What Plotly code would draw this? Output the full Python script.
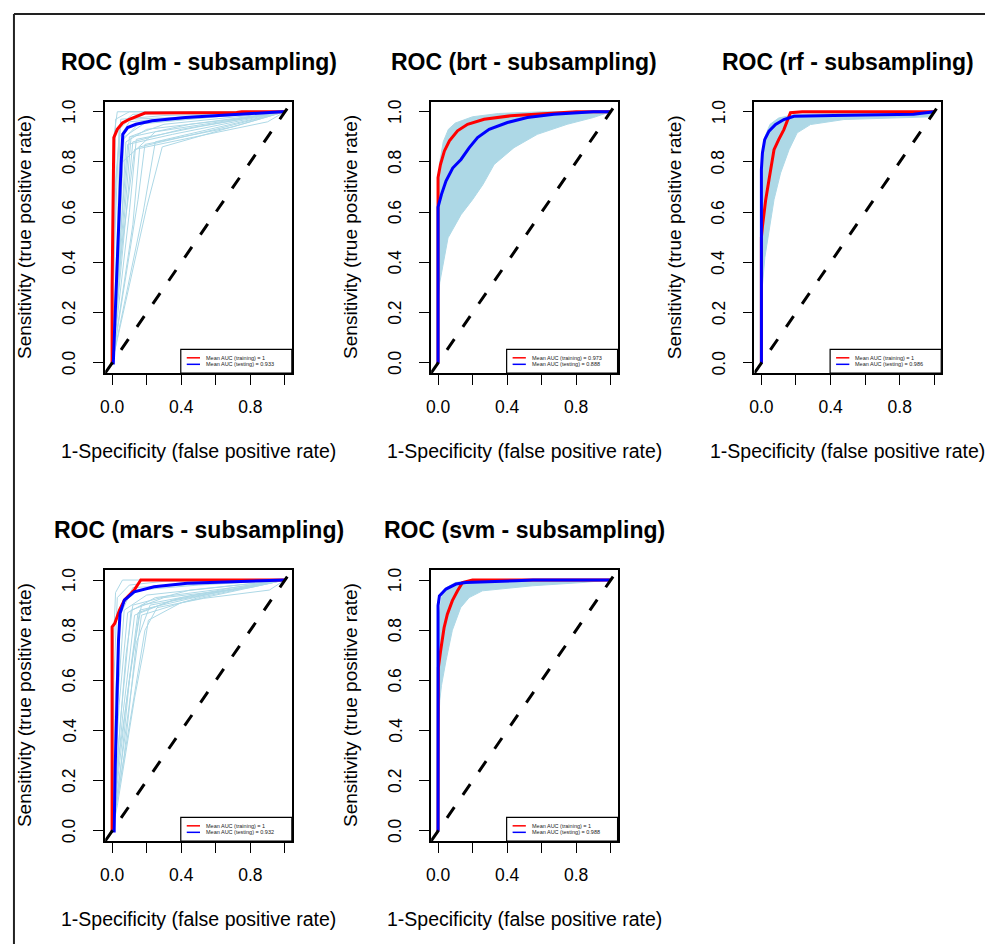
import plotly.graph_objects as go

# ---------------- data ----------------
AX_RANGE = [-0.04, 1.04]
tick_vals = [0, 0.2, 0.4, 0.6, 0.8, 1.0]
x_tick_text = ["0.0", "", "0.4", "", "0.8", ""]
y_tick_text = ["0.0", "0.2", "0.4", "0.6", "0.8", "1.0"]

titles = ["ROC (glm - subsampling)", "ROC (brt - subsampling)", "ROC (rf - subsampling)",
          "ROC (mars - subsampling)", "ROC (svm - subsampling)"]
auc_train = ["1", "0.973", "1", "1", "1"]
auc_test = ["0.933", "0.888", "0.986", "0.932", "0.988"]

# glm
glm_train_fpr = [0, 0.0, 0.005, 0.01, 0.03, 0.06, 0.1, 0.14, 0.19, 0.72, 0.75, 1.0]
glm_train_tpr = [0, 0.3, 0.6, 0.897, 0.93, 0.955, 0.97, 0.98, 0.995, 0.997, 1.0, 1.0]
glm_test_fpr = [0.0, 0.007, 0.014, 0.023, 0.033, 0.042, 0.052, 0.062, 0.09, 0.138, 0.233, 0.424, 0.711, 0.98, 1.0]
glm_test_tpr = [0.0, 0.0, 0.125, 0.3, 0.458, 0.658, 0.79, 0.91, 0.937, 0.95, 0.964, 0.977, 0.99, 1.0, 1.0]
glm_runs_fpr = [
    [0, 0.01, 0.03, 0.2, 1], [0, 0.02, 0.05, 0.12, 1], [0, 0.03, 0.045, 0.1, 0.5, 1],
    [0, 0.04, 0.065, 0.15, 0.6, 1], [0, 0.05, 0.08, 0.2, 0.7, 1], [0, 0.06, 0.1, 0.3, 1],
    [0, 0.08, 0.12, 0.4, 1], [0, 0.1, 0.14, 0.5, 1], [0, 0.12, 0.16, 0.6, 1],
    [0, 0.15, 0.19, 0.7, 1], [0, 0.2, 0.29, 1], [0, 0.18, 0.25, 1],
    [0, 0.02, 0.06, 0.25, 1], [0, 0.01, 0.02, 0.1, 1], [0, 0.03, 0.09, 0.35, 1],
    [0, 0.045, 0.13, 0.9, 1], [0, 0.01, 0.04, 0.1, 0.8, 1], [0, 0.02, 0.07, 0.2, 1],
    [0, 0.005, 0.05, 0.3, 0.9, 1], [0, 0.03, 0.11, 0.45, 1]]
glm_runs_tpr = [
    [0, 0.9, 1.0, 1.0, 1], [0, 0.7, 0.95, 0.99, 1], [0, 0.5, 0.9, 0.96, 0.985, 1],
    [0, 0.55, 0.89, 0.95, 0.98, 1], [0, 0.5, 0.88, 0.93, 0.97, 1], [0, 0.55, 0.9, 0.95, 1],
    [0, 0.6, 0.88, 0.93, 1], [0, 0.6, 0.89, 0.94, 1], [0, 0.55, 0.86, 0.93, 1],
    [0, 0.65, 0.87, 0.94, 1], [0, 0.62, 0.86, 1], [0, 0.6, 0.88, 1],
    [0, 0.3, 0.8, 0.92, 1], [0, 0.5, 0.97, 1, 1], [0, 0.35, 0.87, 0.91, 1],
    [0, 0.4, 0.85, 0.96, 1], [0, 0.4, 0.93, 0.97, 0.99, 1], [0, 0.2, 0.9, 0.96, 1],
    [0, 0.6, 0.97, 0.985, 0.995, 1], [0, 0.25, 0.9, 0.95, 1]]

# brt
brt_train_fpr = [0, 0.0, 0.0, 0.014, 0.037, 0.066, 0.113, 0.171, 0.267, 0.421, 0.55, 0.8, 1.0]
brt_train_tpr = [0, 0.618, 0.738, 0.79, 0.844, 0.884, 0.924, 0.95, 0.97, 0.984, 0.99, 1.0, 1.0]
brt_test_fpr = [0, 0.0, 0.02, 0.046, 0.085, 0.133, 0.181, 0.229, 0.296, 0.402, 0.517, 0.671, 0.9, 1.0]
brt_test_tpr = [0, 0.62, 0.671, 0.724, 0.776, 0.81, 0.857, 0.897, 0.93, 0.957, 0.977, 0.99, 1.0, 1.0]
brt_band_up_fpr = [0, 0.0, 0.01, 0.03, 0.06, 0.1, 0.2, 0.35, 0.6, 1.0]
brt_band_up_tpr = [0, 0.62, 0.8, 0.88, 0.93, 0.955, 0.98, 0.993, 1.0, 1.0]
brt_band_lo_fpr = [0, 0.0, 0.01, 0.058, 0.133, 0.2, 0.26, 0.325, 0.44, 0.575, 0.748, 0.9, 1.0]
brt_band_lo_tpr = [0, 0.245, 0.32, 0.498, 0.59, 0.65, 0.71, 0.79, 0.857, 0.91, 0.95, 0.977, 1.0]

# rf
rf_train_fpr = [0, 0.0, 0.006, 0.025, 0.044, 0.073, 0.1, 0.13, 0.168, 0.236, 0.86, 1.0]
rf_train_tpr = [0, 0.5, 0.543, 0.65, 0.729, 0.849, 0.889, 0.929, 0.996, 1.0, 1.0, 1.0]
rf_test_fpr = [0, 0.0, 0.006, 0.019, 0.044, 0.082, 0.13, 0.188, 0.419, 0.88, 1.0]
rf_test_tpr = [0, 0.77, 0.836, 0.889, 0.923, 0.949, 0.969, 0.982, 0.985, 0.99, 1.0]
rf_band_up_fpr = [0, 0.0, 0.005, 0.02, 0.05, 0.1, 0.2, 1.0]
rf_band_up_tpr = [0, 0.45, 0.8, 0.9, 0.95, 0.975, 0.99, 1.0]
rf_band_lo_fpr = [0, 0.005, 0.02, 0.04, 0.073, 0.111, 0.16, 0.207, 0.284, 0.477, 0.765, 0.99, 1.0]
rf_band_lo_tpr = [0, 0.3, 0.42, 0.5, 0.65, 0.756, 0.849, 0.916, 0.949, 0.969, 0.975, 0.98, 1.0]

# mars
mars_train_fpr = [0, 0.0, 0.0, 0.015, 0.043, 0.071, 0.128, 0.166, 1.0]
mars_train_tpr = [0, 0.4, 0.813, 0.827, 0.88, 0.92, 0.96, 1.0, 1.0]
mars_test_fpr = [0, 0.012, 0.018, 0.027, 0.037, 0.046, 0.071, 0.128, 0.243, 0.435, 0.72, 0.99, 1.0]
mars_test_tpr = [0, 0.0, 0.253, 0.52, 0.76, 0.867, 0.92, 0.953, 0.973, 0.987, 0.993, 1.0, 1.0]
mars_runs_fpr = [
    [0, 0.01, 0.03, 0.1, 0.3, 1], [0, 0.02, 0.05, 0.15, 0.5, 1], [0, 0.03, 0.07, 0.2, 0.6, 1],
    [0, 0.04, 0.09, 0.25, 0.7, 1], [0, 0.05, 0.11, 0.3, 0.8, 1], [0, 0.06, 0.13, 0.35, 1],
    [0, 0.08, 0.15, 0.4, 1], [0, 0.1, 0.17, 0.5, 1], [0, 0.12, 0.19, 0.26, 0.53, 0.91, 1],
    [0, 0.03, 0.13, 0.185, 0.21, 0.4, 1], [0, 0.005, 0.02, 0.06, 1], [0, 0.015, 0.04, 0.12, 1],
    [0, 0.07, 0.14, 0.22, 1], [0, 0.05, 0.1, 0.16, 0.6, 1], [0, 0.02, 0.08, 0.12, 0.45, 1],
    [0, 0.04, 0.12, 0.17, 0.7, 1]]
mars_runs_tpr = [
    [0, 0.6, 0.93, 0.98, 0.995, 1], [0, 0.55, 0.9, 0.96, 0.98, 1], [0, 0.5, 0.88, 0.94, 0.97, 1],
    [0, 0.5, 0.87, 0.93, 0.97, 1], [0, 0.45, 0.88, 0.93, 0.97, 1], [0, 0.45, 0.86, 0.92, 1],
    [0, 0.5, 0.87, 0.93, 1], [0, 0.5, 0.86, 0.93, 1], [0, 0.5, 0.8, 0.89, 0.927, 0.96, 1],
    [0, 0.1, 0.53, 0.73, 0.84, 0.91, 1], [0, 0.7, 0.95, 1, 1], [0, 0.3, 0.85, 0.97, 1],
    [0, 0.3, 0.75, 0.9, 1], [0, 0.25, 0.6, 0.88, 0.95, 1], [0, 0.2, 0.7, 0.9, 0.96, 1],
    [0, 0.3, 0.7, 0.9, 0.97, 1]]

# svm
svm_train_fpr = [0, 0.0, 0.002, 0.015, 0.035, 0.054, 0.083, 0.113, 0.142, 0.2, 1.0]
svm_train_tpr = [0, 0.6, 0.651, 0.718, 0.81, 0.864, 0.918, 0.957, 0.99, 1.0, 1.0]
svm_test_fpr = [0, 0.0, 0.008, 0.046, 0.104, 0.161, 0.45, 0.55, 1.0]
svm_test_tpr = [0, 0.898, 0.937, 0.964, 0.984, 0.99, 0.997, 1.0, 1.0]
svm_band_up_fpr = [0, 0.0, 0.005, 0.02, 0.05, 0.1, 0.2, 1.0]
svm_band_up_tpr = [0, 0.6, 0.85, 0.93, 0.97, 0.99, 1.0, 1.0]
svm_band_lo_fpr = [0, 0.003, 0.01, 0.02, 0.046, 0.083, 0.131, 0.18, 0.257, 0.546, 0.834, 1.0]
svm_band_lo_tpr = [0, 0.4, 0.52, 0.58, 0.678, 0.8, 0.89, 0.93, 0.957, 0.977, 0.99, 1.0]

# ---------------- layout geometry (pixels of the 985x944 page) ----------------
W, H = 985, 944
boxes = [  # left, right, top, bottom of each plot box
    (100.7, 288.3, 101.7, 373.0),
    (428.3, 615.7, 101.7, 373.0),
    (753.3, 941.0, 101.7, 373.0),
    (100.7, 288.3, 570.0, 841.0),
    (428.3, 615.7, 570.0, 841.0),
]

LIGHT = "#ADD8E6"
FONT = "Liberation Sans, Arial, sans-serif"

fig = go.Figure()


def ax(i):
    return ("x" if i == 0 else f"x{i+1}"), ("y" if i == 0 else f"y{i+1}")


def add_lines(i, fx_list, ty_list):
    xa, ya = ax(i)
    for fx, ty in zip(fx_list, ty_list):
        fig.add_trace(go.Scatter(x=fx, y=ty, mode="lines", xaxis=xa, yaxis=ya,
                                 line=dict(color=LIGHT, width=1), showlegend=False, hoverinfo="skip"))


def add_band(i, up_x, up_y, lo_x, lo_y):
    xa, ya = ax(i)
    bx = list(up_x) + list(reversed(lo_x))
    by = list(up_y) + list(reversed(lo_y))
    fig.add_trace(go.Scatter(x=bx, y=by, mode="lines", fill="toself", fillcolor=LIGHT,
                             xaxis=xa, yaxis=ya, line=dict(color=LIGHT, width=1),
                             showlegend=False, hoverinfo="skip"))


def add_main(i, trx, tr_y, tex, te_y):
    xa, ya = ax(i)
    fig.add_trace(go.Scatter(x=trx, y=tr_y, mode="lines", xaxis=xa, yaxis=ya,
                             line=dict(color="#FF0000", width=3), showlegend=False))
    fig.add_trace(go.Scatter(x=tex, y=te_y, mode="lines", xaxis=xa, yaxis=ya,
                             line=dict(color="#0000FF", width=3), showlegend=False))
    fig.add_trace(go.Scatter(x=AX_RANGE, y=AX_RANGE, mode="lines", xaxis=xa, yaxis=ya,
                             line=dict(color="black", width=3, dash="13px,15px"), showlegend=False))


add_lines(0, glm_runs_fpr, glm_runs_tpr)
add_main(0, glm_train_fpr, glm_train_tpr, glm_test_fpr, glm_test_tpr)
add_band(1, brt_band_up_fpr, brt_band_up_tpr, brt_band_lo_fpr, brt_band_lo_tpr)
add_main(1, brt_train_fpr, brt_train_tpr, brt_test_fpr, brt_test_tpr)
add_band(2, rf_band_up_fpr, rf_band_up_tpr, rf_band_lo_fpr, rf_band_lo_tpr)
add_main(2, rf_train_fpr, rf_train_tpr, rf_test_fpr, rf_test_tpr)
add_lines(3, mars_runs_fpr, mars_runs_tpr)
add_main(3, mars_train_fpr, mars_train_tpr, mars_test_fpr, mars_test_tpr)
add_band(4, svm_band_up_fpr, svm_band_up_tpr, svm_band_lo_fpr, svm_band_lo_tpr)
add_main(4, svm_train_fpr, svm_train_tpr, svm_test_fpr, svm_test_tpr)

layout = dict(width=W, height=H, margin=dict(l=0, r=0, t=0, b=0),
              paper_bgcolor="white", plot_bgcolor="white", showlegend=False,
              font=dict(family=FONT, color="black"))
annotations = []
shapes = []
for i, (l, r, t, b) in enumerate(boxes):
    sfx = "" if i == 0 else str(i + 1)
    common = dict(range=AX_RANGE, showgrid=False, zeroline=False, showline=True, mirror=True,
                  linecolor="black", linewidth=1.5, ticks="outside", ticklen=10, tickwidth=1.2,
                  tickcolor="black", tickvals=tick_vals, tickfont=dict(size=17.5, family=FONT, color="black"))
    layout["xaxis" + sfx] = dict(common, domain=[l / W, r / W], anchor="y" + sfx,
                                 ticktext=x_tick_text, ticklabelstandoff=7)
    layout["yaxis" + sfx] = dict(common, domain=[1 - b / H, 1 - t / H], anchor="x" + sfx,
                                 ticktext=["" for _ in y_tick_text])
    xd, yd = "x" + sfx + " domain", "y" + sfx + " domain"
    # rotated y tick labels (R style, las = 0), placed on the y scale
    for v, txt in zip(tick_vals, y_tick_text):
        annotations.append(dict(text=txt, xref=xd, yref="y" + sfx, x=0, y=v, xshift=-36,
                                showarrow=False, textangle=-90, xanchor="center", yanchor="middle",
                                font=dict(size=17.5, family=FONT, color="black")))
    cx = (l + r) / 2
    annotations.append(dict(text="<b>" + titles[i] + "</b>", x=cx / W, y=1 - (t - 40) / H,
                            xref="paper", yref="paper", showarrow=False, xanchor="center",
                            yanchor="middle", font=dict(size=23, family=FONT, color="black")))
    annotations.append(dict(text="1-Specificity (false positive rate)", x=cx / W, y=1 - (b + 78) / H,
                            xref="paper", yref="paper", showarrow=False, xanchor="center",
                            yanchor="middle", font=dict(size=19.5, family=FONT, color="black")))
    annotations.append(dict(text="Sensitivity (true positive rate)", x=(l - 81) / W, y=1 - (t + b) / 2 / H,
                            xref="paper", yref="paper", showarrow=False, xanchor="center",
                            yanchor="middle", textangle=-90,
                            font=dict(size=19, family=FONT, color="black")))
    shapes.append(dict(type="rect", xref=xd, yref=yd, x0=0.405, x1=1.0, y0=0.0, y1=0.087,
                       fillcolor="white", line=dict(color="black", width=1.2), layer="above"))
    shapes.append(dict(type="line", xref=xd, yref=yd, x0=0.437, x1=0.508, y0=0.056, y1=0.056,
                       line=dict(color="#FF0000", width=1.5), layer="above"))
    shapes.append(dict(type="line", xref=xd, yref=yd, x0=0.437, x1=0.508, y0=0.032, y1=0.032,
                       line=dict(color="#0000FF", width=1.5), layer="above"))
    annotations.append(dict(text="Mean AUC (training) = " + auc_train[i], xref=xd, yref=yd,
                            x=0.53, y=0.056, showarrow=False, xanchor="left", yanchor="middle",
                            font=dict(size=5.5, family=FONT, color="#222")))
    annotations.append(dict(text="Mean AUC (testing) = " + auc_test[i], xref=xd, yref=yd,
                            x=0.53, y=0.032, showarrow=False, xanchor="left", yanchor="middle",
                            font=dict(size=5.5, family=FONT, color="#222")))

# outer frame of the screenshot
shapes.append(dict(type="line", xref="paper", yref="paper", x0=9 / W, x1=1, y0=1 - 14 / H, y1=1 - 14 / H,
                   line=dict(color="#222", width=2)))
shapes.append(dict(type="line", xref="paper", yref="paper", x0=9 / W, x1=9 / W, y0=1 - 14 / H, y1=0,
                   line=dict(color="#222", width=2)))

layout["annotations"] = annotations
layout["shapes"] = shapes
fig.update_layout(**layout)
fig.write_html("out.html", config={"displayModeBar": False},
               post_script="document.body.style.margin='0';document.body.style.padding='0';"
                           "document.documentElement.style.overflow='hidden';"
                           "var g=document.getElementById('{plot_id}');"
                           "g.style.position='absolute';g.style.left='0px';g.style.top='0px';")
